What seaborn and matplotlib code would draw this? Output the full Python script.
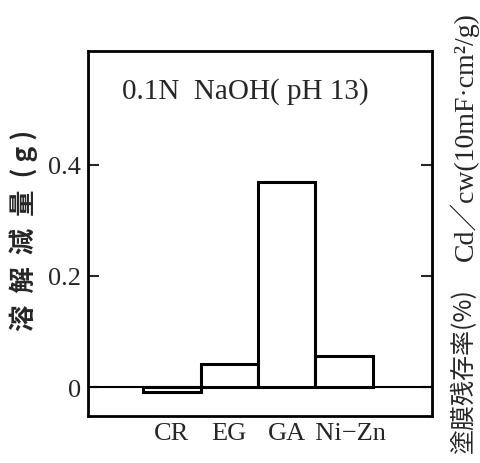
import matplotlib
matplotlib.use("Agg")
import matplotlib.pyplot as plt
import seaborn as sns
import pandas as pd

categories = ["CR", "EG", "GA", "Ni\u2212Zn"]
values = [-0.008, 0.041, 0.369, 0.056]
xtick_labels = ["CR", "EG", "GA", "  Ni\u2212Zn"]
yticks = [0, 0.2, 0.4]
ytick_labels = ["0", "0.2", "0.4"]

sns.set_style("white")
plt.rcParams['font.family'] = ['Liberation Serif', 'Noto Sans CJK JP', 'DejaVu Sans']

df = pd.DataFrame({"cat": categories, "val": values})

fig = plt.figure(figsize=(4.8, 4.64), dpi=100)
ax = fig.add_axes([88/480, 1-417/464, 344/480, 365/464])

sns.barplot(data=df, x="cat", y="val", color="white", edgecolor="black",
            linewidth=2.2, width=1.0, saturation=1, ax=ax, zorder=3)
ax.axhline(0, color="black", lw=1.5, zorder=2)

ax.set_xlim(-1.46, 4.53)
ax.set_ylim(-0.052, 0.605)
ax.set_yticks(yticks)
ax.set_yticklabels(ytick_labels, fontsize=19, family=['Liberation Serif'])
ax.tick_params(axis='y', direction='in', length=8, width=1.5, right=True, left=True, pad=5)
ax.set_xticks(range(len(categories)))
ax.set_xticklabels(xtick_labels, fontsize=19, family=['Liberation Serif'])
ax.tick_params(axis='x', length=0, pad=4)
ax.set_xlabel("")
ax.set_ylabel("")
for s in ax.spines.values():
    s.set_linewidth(2)
    s.set_color("black")

ax.text(0.099, 0.893, "0.1N  NaOH( pH 13)", transform=ax.transAxes,
        fontsize=21, va="center", ha="left", family=['Liberation Serif'])

fig.text(24/480, 1-230/464, "溶  解  減  量  ( g )", rotation=90, fontsize=19,
         ha="center", va="center", family=['Noto Sans CJK JP'], fontweight='bold')

fig.text(464/480, 1-12/464, "Cd／cw(10mF·cm²/g)", rotation=90, fontsize=20,
         ha="center", va="top", family=['Liberation Serif', 'Noto Sans CJK JP'])
fig.text(464/480, 1-288/464, "塗膜残存率(%)", rotation=90, fontsize=18,
         ha="center", va="top", family=['Noto Sans CJK JP'])

fig.savefig("out.png", dpi=100)
